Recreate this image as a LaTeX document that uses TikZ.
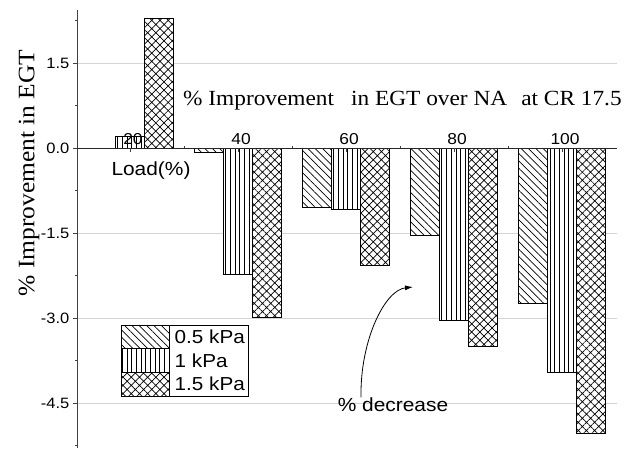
\documentclass[tikz,border=0pt]{standalone}
\usepackage{fontspec}
\setmainfont{Liberation Serif}[FakeStretch=1.08]
\setsansfont{Liberation Sans}[FakeStretch=1.1]
\usetikzlibrary{patterns.meta,arrows.meta}
\tikzset{
  barbase/.style={draw=black, line width=0.8pt, preaction={fill=white}},
  barA/.style={barbase, pattern={Lines[angle=-45,distance=5.2pt,line width=0.7pt]}},
  barB/.style={barbase, pattern={Lines[angle=90,distance=4.7pt,line width=0.7pt]}},
  barC/.style={barbase, pattern={Hatch[angle=45,distance=5.8pt,line width=0.7pt]}},
  gridln/.style={draw=black!17, line width=0.9pt},
  axisln/.style={draw=black!75, line width=1pt},
  tickln/.style={draw=black!75, line width=0.8pt},
  ticklab/.style={font=\sffamily\fontsize{15}{17}\selectfont, inner sep=0pt},
  catlab/.style={font=\sffamily\fontsize{15.8}{17}\selectfont, inner sep=0pt},
  biglab/.style={font=\sffamily\fontsize{19}{21}\selectfont, inner sep=0pt},
  leglab/.style={font=\sffamily\fontsize{18.8}{21}\selectfont, inner sep=0pt, anchor=west},
  titlelab/.style={font=\rmfamily\fontsize{21.6}{24}\selectfont, inner sep=0pt},
  ylab/.style={font=\rmfamily\fontsize{23.6}{26}\selectfont, inner sep=0pt, rotate=90},
}
\begin{document}
\begin{tikzpicture}[x=1pt,y=-1pt]
\useasboundingbox[fill=white] (0,0) rectangle (637,451);
% grid lines
\foreach \gy in {63,233,318,403} {
  \draw[gridln] (77,\gy) -- (617,\gy);
}
% bars: centre / bottom(0.5) / bottom(1) / bottom(1.5)
\foreach \c/\a/\b/\d in {130/148/136/18.7, 238/152/274.5/317.5, 346/207/209/265, 454/235/320/346.7, 562/303/372.7/433} {
  \path[barA] (\c-43.5,148) rectangle (\c-14.5,\a);
  \path[barB] (\c-14.5,148) rectangle (\c+14.5,\b);
  \path[barC] (\c+14.5,148) rectangle (\c+43.5,\d);
}
% axes
\draw[axisln] (77,448) -- (77,10);
\draw[line width=1pt, draw=black!85] (77,148) -- (617,148);
% y ticks
\foreach \gy in {63,148,233,318,403} { \draw[tickln] (73,\gy) -- (77,\gy); }
\foreach \gy in {20.5,105.5,190.5,275.5,360.5,445.5} { \draw[tickln] (75,\gy) -- (77,\gy); }
% x ticks
\foreach \c in {130,238,346,454,562} { \draw[tickln] (\c,148) -- (\c,152); }
\foreach \m in {184,292,400,508} { \draw[tickln] (\m,148) -- (\m,145.5); }
% y tick labels
\node[ticklab, anchor=east] (yl1) at (69.5,63) {1.5};
\node[ticklab, anchor=east] (yl2) at (69.5,148) {0.0};
\node[ticklab, anchor=east] (yl3) at (69.5,233) {-1.5};
\node[ticklab, anchor=east] (yl4) at (69.5,318) {-3.0};
\node[ticklab, anchor=east] (yl5) at (69.5,403) {-4.5};
% category labels
\node[catlab, anchor=base] (c20) at (133,144.5) {20};
\node[catlab, anchor=base] (c40) at (241,144.5) {40};
\node[catlab, anchor=base] (c60) at (349,144.5) {60};
\node[catlab, anchor=base] (c80) at (457,144.5) {80};
\node[catlab, anchor=base] (c100) at (565,144.5) {100};
\node[biglab, anchor=base] (load) at (151,175.5) {Load(\%)};
% titles
\node[titlelab, anchor=base west] (title) at (183,105.5) {\%~Improvement\hspace{17pt}in EGT over NA\hspace{14pt}at CR 17.5};
\node[ylab] (ylabel) at (29,173) {\% Improvement in EGT};
% legend
\draw[line width=0.8pt] (121,325) rectangle (248,396);
\path[barA] (121,325) rectangle (169,348.7);
\path[barB] (121,348.7) rectangle (169,372.3);
\path[barC] (121,372.3) rectangle (169,396);
\node[leglab] (lg1) at (174.5,336.8) {0.5 kPa};
\node[leglab] (lg2) at (174.5,360.5) {1 kPa};
\node[leglab] (lg3) at (174.5,384.2) {1.5 kPa};
% annotation
\node[biglab] (dec) at (393,404.5) {\% decrease};
\coordinate (tip) at (413,287);
\draw[line width=0.8pt, -{Latex[length=8pt,width=5pt]}] ([xshift=-32pt]dec.north) .. controls (360,340) and (385,290) .. (tip);
\end{tikzpicture}
\end{document}
